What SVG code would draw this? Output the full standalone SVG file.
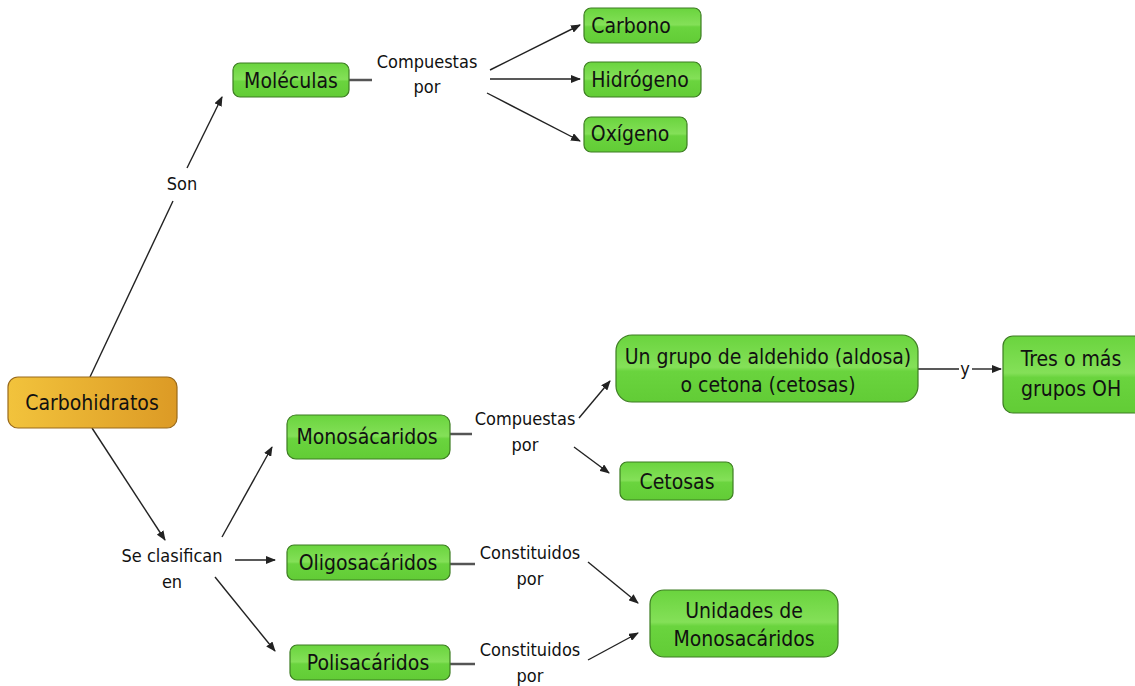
<svg xmlns="http://www.w3.org/2000/svg" width="1135" height="686" viewBox="0 0 1135 686">
<style>
.g rect{fill:url(#gg);stroke:#3d7d22;stroke-width:1.2}
.o rect{fill:url(#go);stroke:#9a6a1a;stroke-width:1.2}
.t{font-family:"DejaVu Sans Condensed","DejaVu Sans",sans-serif;font-size:21px;fill:#111;text-anchor:middle}
.l{font-family:"DejaVu Sans Condensed","DejaVu Sans",sans-serif;font-size:18px;fill:#111;text-anchor:middle}
#conn line{stroke:#222;stroke-width:1.4}
#conn line.a{marker-end:url(#ar)}
#conn line.s{stroke:#555;stroke-width:2.5}
</style>
<defs>
<linearGradient id="gg" x1="0" y1="0" x2="0" y2="1">
<stop offset="0" stop-color="#6ad43e"/><stop offset="0.48" stop-color="#84e058"/><stop offset="0.54" stop-color="#6ad43e"/><stop offset="1" stop-color="#62cc36"/>
</linearGradient>
<linearGradient id="go" x1="0" y1="0" x2="1" y2="0">
<stop offset="0" stop-color="#f2c33c"/><stop offset="1" stop-color="#dc9a25"/>
</linearGradient>
<marker id="ar" markerWidth="10" markerHeight="8" refX="9" refY="4" orient="auto" markerUnits="userSpaceOnUse">
<path d="M0,0 L10,4 L0,8 Z" fill="#222"/>
</marker>
</defs>
<rect width="1135" height="686" fill="#fff"/>
<g id="conn">
<line x1="90" y1="377" x2="173" y2="201"/>
<line class="a" x1="187" y1="168" x2="222" y2="97"/>
<line class="s" x1="349" y1="80" x2="372" y2="80"/>
<line class="a" x1="490" y1="70" x2="580" y2="25"/>
<line class="a" x1="490" y1="79" x2="580" y2="79"/>
<line class="a" x1="487" y1="93" x2="580" y2="141"/>
<line class="a" x1="92" y1="428" x2="165" y2="540"/>
<line class="a" x1="222" y1="537" x2="272" y2="447"/>
<line class="a" x1="235" y1="560" x2="275" y2="560"/>
<line class="a" x1="215" y1="577" x2="275" y2="651"/>
<line class="s" x1="450" y1="434" x2="472" y2="434"/>
<line class="a" x1="579" y1="418" x2="610" y2="381"/>
<line class="a" x1="574" y1="447" x2="609" y2="473"/>
<line class="s" x1="450" y1="564" x2="475" y2="564"/>
<line class="a" x1="588" y1="562" x2="638" y2="603"/>
<line class="s" x1="450" y1="664" x2="475" y2="664"/>
<line class="a" x1="588" y1="660" x2="638" y2="633"/>
<line x1="918" y1="369" x2="959" y2="369"/>
<line class="a" x1="972" y1="369" x2="1001" y2="369"/>
</g>
<g class="l">
<text x="182" y="190">Son</text>
<text x="427" y="68">Compuestas</text><text x="427" y="93">por</text>
<text x="172" y="562">Se clasifican</text><text x="172" y="588">en</text>
<text x="525" y="425">Compuestas</text><text x="525" y="451">por</text>
<text x="530" y="559">Constituidos</text><text x="530" y="585">por</text>
<text x="530" y="656">Constituidos</text><text x="530" y="682">por</text>
<text x="965" y="375">y</text>
</g>
<g id="carbohidratos" class="o"><rect x="8" y="377" width="169" height="51" rx="10"/><text class="t" x="92" y="410">Carbohidratos</text></g>
<g id="moleculas" class="g"><rect x="233" y="63" width="116" height="34" rx="7"/><text class="t" x="291" y="88">Moléculas</text></g>
<g id="carbono" class="g"><rect x="584" y="8" width="117" height="35" rx="7"/><text class="t" x="631" y="33">Carbono</text></g>
<g id="hidrogeno" class="g"><rect x="584" y="62" width="117" height="35" rx="7"/><text class="t" x="640" y="87">Hidrógeno</text></g>
<g id="oxigeno" class="g"><rect x="584" y="117" width="103" height="35" rx="7"/><text class="t" x="630" y="141">Oxígeno</text></g>
<g id="monosacaridos" class="g"><rect x="287" y="415" width="163" height="44" rx="9"/><text class="t" x="367" y="444">Monosácaridos</text></g>
<g id="oligosacaridos" class="g"><rect x="287" y="545" width="163" height="35" rx="7"/><text class="t" x="368" y="570">Oligosacáridos</text></g>
<g id="polisacaridos" class="g"><rect x="290" y="645" width="160" height="35" rx="7"/><text class="t" x="368" y="670">Polisacáridos</text></g>
<g id="aldehido" class="g"><rect x="616" y="335" width="302" height="67" rx="16"/><text class="t" x="768" y="364">Un grupo de aldehido (aldosa)</text><text class="t" x="768" y="392">o cetona (cetosas)</text></g>
<g id="oh" class="g"><rect x="1003" y="336" width="140" height="77" rx="10"/><text class="t" x="1071" y="366">Tres o más</text><text class="t" x="1071" y="396">grupos OH</text></g>
<g id="cetosas" class="g"><rect x="620" y="462" width="113" height="38" rx="7"/><text class="t" x="677" y="489">Cetosas</text></g>
<g id="unidades" class="g"><rect x="650" y="590" width="188" height="67" rx="14"/><text class="t" x="744" y="618">Unidades de</text><text class="t" x="744" y="646">Monosacáridos</text></g>
</svg>
